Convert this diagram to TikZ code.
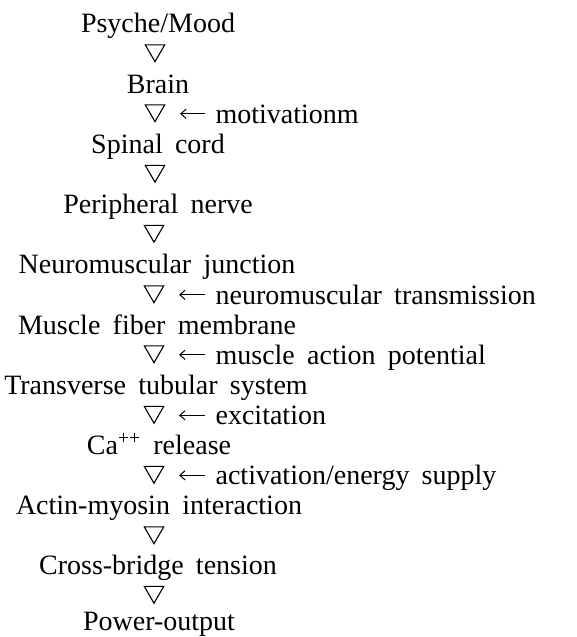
\documentclass[tikz,border=0pt]{standalone}
\usepackage{fontspec}
\setmainfont{Liberation Serif}[WordSpace=1.75]
\usetikzlibrary{arrows.meta, positioning, shapes.geometric}
\tikzset{
  every picture/.style={font=\fontsize{14}{16}\selectfont, line width=0.6pt},
  stage/.style={inner sep=0pt, anchor=base},
  tri/.style={regular polygon, regular polygon sides=3, shape border rotate=180, draw, minimum size=11.2pt, inner sep=0pt, line width=0.55pt},
  cue/.style={inner sep=0pt, anchor=base west},
  feed/.style={-{Straight Barb[length=2.6pt, width=4.6pt]}, line width=0.5pt, shorten <=5pt, shorten >=9pt},
}

\begin{document}
\begin{tikzpicture}[x=0.5pt, y=-0.5pt]
  \useasboundingbox (0,0) rectangle (577,637);
  % main chain
  \node[stage] (psyche) at (158,32.5) {Psyche/Mood};
  \node[tri] (t1) at (155,50.5) {};
  \node[stage] (brain) at (158,93) {Brain};
  \node[tri] (t2) at (155,110.5) {};
  \node[stage] (spinal) at (158,153) {Spinal cord};
  \node[tri] (t3) at (155,171) {};
  \node[stage] (nerve) at (158,213.5) {Peripheral nerve};
  \node[tri] (t4) at (154,231) {};
  \node[stage] (junction) at (157,273.5) {Neuromuscular junction};
  \node[tri] (t5) at (154,291.5) {};
  \node[stage] (membrane) at (157,334) {Muscle fiber membrane};
  \node[tri] (t6) at (154,351.5) {};
  \node[stage] (tubular) at (156,394) {Transverse tubular system};
  \node[tri] (t7) at (154,412) {};
  \node[stage] (calcium) at (159,454.5) {Ca\textsuperscript{++} release};
  \node[tri] (t8) at (154,472) {};
  \node[stage] (actin) at (159,514.5) {Actin-myosin interaction};
  \node[tri] (t9) at (154,532.5) {};
  \node[stage] (tension) at (158,574.5) {Cross-bridge tension};
  \node[tri] (t10) at (154,592) {};
  \node[stage] (power) at (159,630.5) {Power-output};
  % side inputs
  \node[cue] (motiv) at (215,123) {motivationm};
  \node[cue] (transm) at (215,304) {neuromuscular transmission};
  \node[cue] (potential) at (215,364) {muscle action potential};
  \node[cue] (excit) at (215,424.5) {excitation};
  \node[cue] (supply) at (215,484.5) {activation/energy supply};
  \draw[feed] ([yshift=4.6pt]motiv.base west) -- ([yshift=4.6pt]motiv.base west -| t2.east);
  \draw[feed] ([yshift=4.6pt]transm.base west) -- ([yshift=4.6pt]transm.base west -| t5.east);
  \draw[feed] ([yshift=4.6pt]potential.base west) -- ([yshift=4.6pt]potential.base west -| t6.east);
  \draw[feed] ([yshift=4.6pt]excit.base west) -- ([yshift=4.6pt]excit.base west -| t7.east);
  \draw[feed] ([yshift=4.6pt]supply.base west) -- ([yshift=4.6pt]supply.base west -| t8.east);
\end{tikzpicture}
\end{document}
